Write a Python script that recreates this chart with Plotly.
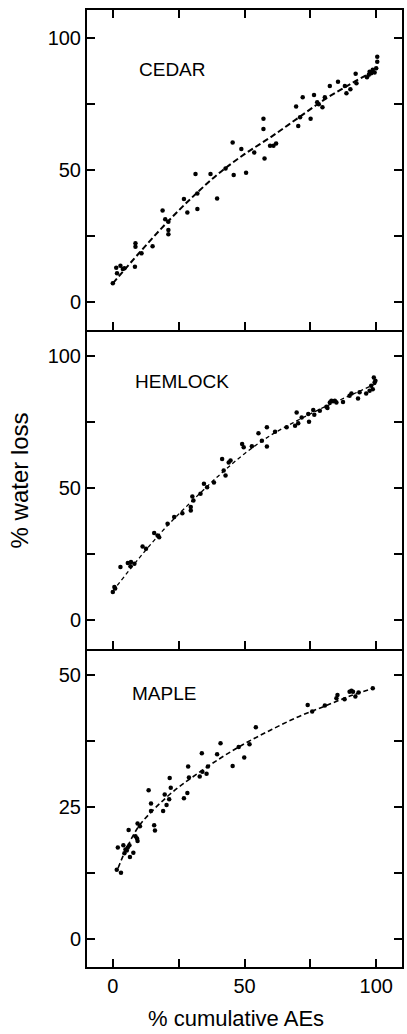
import plotly.graph_objects as go
from plotly.subplots import make_subplots

# ---------------- data ----------------
cedar_x = [0, 1.3, 1.6, 2.9, 3.8, 4.4, 8.4, 8.6, 8.6, 10.9, 15.1, 18.9, 19.9, 21.1, 21.1, 21.1,
           27.0, 28.3, 31.4, 32.1, 32.1, 37.1, 39.6, 42.8, 45.5, 45.9, 48.8, 50.6, 53.7, 57.2,
           57.2, 57.6, 59.7, 61.0, 62.0, 69.6, 70.4, 71.1, 72.1, 75.1, 76.4, 77.6, 78.2, 79.6,
           80.5, 82.4, 85.5, 88.1, 88.7, 90.2, 92.2, 92.5, 96.5, 97.2, 97.5, 98.1, 98.7, 99.4,
           100, 100.4, 100.4]
cedar_y = [7, 12.9, 10.8, 13.7, 12.4, 12.7, 13.3, 22.2, 20.9, 18.4, 21.1, 34.6, 31.3, 30.4, 27.2,
           25.6, 39, 33.9, 48.5, 41.1, 35.2, 48.5, 39.2, 50.6, 60.4, 48.1, 58, 49, 56.6, 69.4,
           65.6, 54.4, 59.2, 59.2, 60.1, 74.1, 66.7, 70, 77.6, 69.4, 78.5, 75.7, 74.9, 73.8,
           77.6, 81.9, 83.5, 81.9, 79.1, 80.6, 86.5, 82.9, 85.2, 86.1, 87.3, 86.7, 88, 87,
           88.6, 91.1, 93]
cedar_fit_x = [0, 10, 20, 30, 40, 50, 60, 70, 80, 90, 100]
cedar_fit_y = [7, 18.5, 29.5, 39.5, 48.5, 56, 62.5, 69.5, 76.5, 82.5, 88]

hemlock_x = [0, 0.6, 0.9, 2.9, 5.7, 6.7, 6.9, 8.2, 11.3, 12.6, 15.7, 17, 17.6, 20.8, 23.3, 26.4,
             29.6, 29.6, 30.2, 30.6, 33.3, 34.6, 35.8, 38.4, 41.5, 42.1, 42.8, 44, 44.7, 49.1,
             49.7, 52.8, 55.3, 56.6, 58.5, 58.5, 61.6, 66, 69.2, 69.8, 70.4, 71.7, 74.2, 74.5,
             76.1, 76.5, 78.6, 81.1, 81.5, 82.4, 83, 83.6, 84.3, 84.9, 87.4, 89.9, 90.6, 93.1,
             93.7, 96.2, 97.5, 98.1, 98.7, 99.1, 99.4, 99.7]
hemlock_y = [10.7, 12.6, 12, 20.1, 21.6, 20.4, 22, 21.4, 27.9, 27, 33, 32, 31.4, 36.5, 39, 40.5,
             42.8, 41.5, 46.8, 45.3, 47.8, 51.6, 50.3, 52.1, 61, 56.6, 54.7, 59.7, 60.4, 66.7,
             65.4, 65.8, 70.7, 67.9, 73, 65.7, 71.3, 73, 73.6, 78.6, 74.5, 76.7, 78, 75.1,
             79.5, 77.7, 79.2, 80.8, 80.3, 82.4, 83, 82.8, 83, 82.4, 82.6, 84.9, 85.8, 83.9,
             86.2, 85.8, 86.8, 88.7, 87.4, 91.8, 89.9, 90.6]
hemlock_fit_x = [0, 10, 20, 30, 40, 50, 60, 70, 80, 90, 100]
hemlock_fit_y = [11, 23.5, 35, 45, 54.5, 63, 70, 75.5, 80.5, 85, 89.5]

maple_x = [1.5, 3.1, 1.9, 4, 4.4, 4.8, 5.3, 5.7, 6, 6.3, 6.5, 7.8, 8.6, 9.2, 9.4, 9.4, 10.3,
           13.6, 14.5, 14.5, 15.7, 16, 19.1, 19.7, 20.4, 21.4, 21.6, 22, 27, 28.3, 28.6, 28.9,
           33, 33.8, 34, 35.6, 36.1, 39.6, 40.9, 45.5, 47.8, 49.9, 51.9, 54.3, 74, 75.7, 80.5,
           84.9, 85.3, 88, 89.9, 90.6, 91.2, 92.1, 93.3, 98.7]
maple_y = [13.2, 12.6, 17.4, 17.8, 16.3, 17, 16.8, 17.4, 20.7, 17.8, 15.6, 16.4, 19.5, 19.1,
           18.6, 21.9, 21.4, 28.2, 25.7, 24.3, 21.6, 20.6, 24.3, 27.4, 25.4, 26.5, 30.5, 28.7,
           26.7, 27.7, 32.7, 30.6, 30.8, 35.2, 31.7, 31.3, 32.7, 35, 37.1, 32.8, 36.4, 34.4,
           36.9, 40.1, 44.3, 43.1, 44.2, 45.6, 46.2, 45.4, 46.8, 47, 46.8, 45.9, 46.7, 47.5]
maple_fit_x = [2, 5, 10, 15, 20, 25, 30, 40, 50, 60, 70, 80, 90, 99]
maple_fit_y = [13.5, 17, 21.5, 24.3, 26.7, 28.8, 30.6, 34, 37, 39.6, 42, 44, 46, 47.5]

panel_names = ["CEDAR", "HEMLOCK", "MAPLE"]
x_ticks = [0, 25, 50, 75, 100]
x_ticktext = ["0", "", "50", "", "100"]
y_ticks_100 = [0, 25, 50, 75, 100]
y_ticktext_100 = ["0", "", "50", "", "100"]
y_ticks_50 = [0, 12.5, 25, 37.5, 50]
y_ticktext_50 = ["0", "", "25", "", "50"]

# ---------------- figure ----------------
W, H = 407, 1034
fig = make_subplots(rows=3, cols=1, vertical_spacing=0)

series = [
    (cedar_x, cedar_y, cedar_fit_x, cedar_fit_y, 2.0, "6px,3px"),
    (hemlock_x, hemlock_y, hemlock_fit_x, hemlock_fit_y, 1.3, "4px,3px"),
    (maple_x, maple_y, maple_fit_x, maple_fit_y, 1.6, "5px,3px"),
]
for i, (px, py, fx, fy, lw, dash) in enumerate(series, start=1):
    fig.add_trace(go.Scatter(x=fx, y=fy, mode="lines", line=dict(color="black", width=lw, dash=dash,
                                                                 shape="spline"),
                             showlegend=False, hoverinfo="skip"), row=i, col=1)
    fig.add_trace(go.Scatter(x=px, y=py, mode="markers", marker=dict(color="black", size=4.5),
                             showlegend=False), row=i, col=1)

font = dict(family="Liberation Sans, Arial, sans-serif", color="black")
tickfont = dict(font, size=20)

# pixel layout: plot area x 87..404, y 10..967
top, bottom = 10, 967
ph = bottom - top
b1, b2 = 330, 649
dom = [[(bottom - b1) / ph, 1.0], [(bottom - b2) / ph, (bottom - b1) / ph], [0.0, (bottom - b2) / ph]]
yranges = [[-10.7, 110.7], [-10.9, 109.8], [-5.2, 54.9]]

for i in range(3):
    xa = "xaxis" if i == 0 else f"xaxis{i+1}"
    ya = "yaxis" if i == 0 else f"yaxis{i+1}"
    fig.layout[xa].update(
        range=[-9.8, 109.8], tickvals=x_ticks,
        ticktext=x_ticktext if i == 2 else [""] * 5,
        showticklabels=(i == 2),
        ticks="inside", ticklen=8, tickwidth=1.5, tickcolor="black",
        showline=True, linecolor="black", linewidth=2,
        mirror="ticks" if i == 0 else False,
        showgrid=False, zeroline=False, tickfont=tickfont,
    )
    yt = y_ticks_50 if i == 2 else y_ticks_100
    ytt = y_ticktext_50 if i == 2 else y_ticktext_100
    fig.layout[ya].update(
        domain=dom[i], range=yranges[i], tickvals=yt, ticktext=ytt,
        ticks="inside", ticklen=8, tickwidth=1.5, tickcolor="black",
        showline=True, linecolor="black", linewidth=2, mirror="ticks",
        showgrid=False, zeroline=False, tickfont=tickfont,
    )

# panel labels
label_pos = [(9, 88.3), (7.5, 90.2), (6.4, 46.4)]
for i, (name, (lx, ly)) in enumerate(zip(panel_names, label_pos), start=1):
    fig.add_annotation(text=name, x=lx, y=ly, xref=f"x{i}" if i > 1 else "x",
                       yref=f"y{i}" if i > 1 else "y", xanchor="left", yanchor="middle",
                       showarrow=False, font=dict(font, size=19))

pw = 404 - 87
fig.add_annotation(text="% water loss", textangle=-90, xref="paper", yref="paper",
                   x=(19 - 87) / pw, y=(bottom - 480) / ph, xanchor="center", yanchor="middle",
                   showarrow=False, font=dict(font, size=24))
fig.add_annotation(text="% cumulative AEs", xref="paper", yref="paper",
                   x=(237 - 87) / pw, y=(bottom - 1018) / ph, xanchor="center", yanchor="middle",
                   showarrow=False, font=dict(font, size=22))

fig.update_layout(
    width=W, height=H, margin=dict(l=87, r=W - 404, t=top, b=H - bottom),
    paper_bgcolor="white", plot_bgcolor="white", font=font, showlegend=False,
)

fig.write_html("out.html")
